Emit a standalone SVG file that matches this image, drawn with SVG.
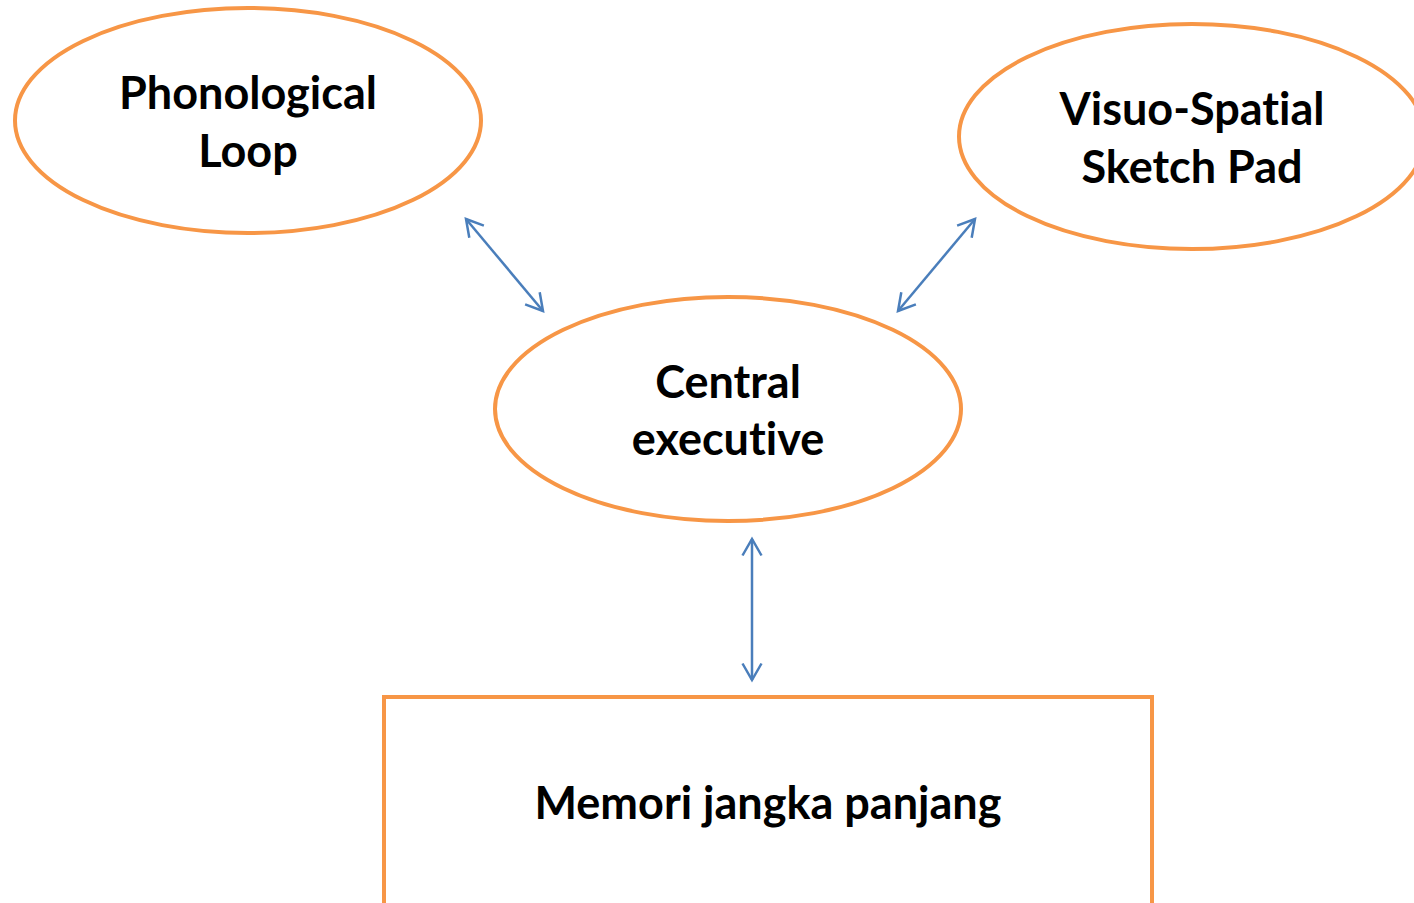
<svg xmlns="http://www.w3.org/2000/svg" width="1414" height="903" viewBox="0 0 1414 903">
<style>
.n{fill:#fff;stroke:#F79646;stroke-width:4}
.t{font-family:Lato,"Open Sans",sans-serif;font-weight:bold;font-size:45px;fill:#000;text-anchor:middle;font-variant-ligatures:none;font-feature-settings:"liga" 0}
.c{fill:none;stroke:#4A7EBB;stroke-width:2.5}
</style>
<defs>
<marker id="ah" viewBox="0 0 22 22" refX="19" refY="11" markerWidth="22" markerHeight="22" markerUnits="userSpaceOnUse" orient="auto-start-reverse">
<polyline points="2.5,1.5 19,11 2.5,20.5" fill="none" stroke="#4A7EBB" stroke-width="2.5"/>
</marker>
</defs>
<rect width="1414" height="903" fill="#fff"/>
<g id="phonological-loop">
<ellipse class="n" cx="248" cy="120.5" rx="233" ry="112.5"/>
<text class="t" x="248" y="109">Phonological</text>
<text class="t" x="248" y="167">Loop</text>
</g>
<g id="visuo-spatial">
<ellipse class="n" cx="1192" cy="136.5" rx="233" ry="112.5"/>
<text class="t" x="1192" y="125">Visuo-Spatial</text>
<text class="t" x="1192" y="183">Sketch Pad</text>
</g>
<g id="central-executive">
<ellipse class="n" cx="728" cy="409" rx="233" ry="112"/>
<text class="t" x="728" y="398">Central</text>
<text class="t" x="728" y="455">executive</text>
</g>
<g id="memori">
<rect class="n" x="384" y="697" width="768" height="209"/>
<text class="t" x="768" y="819">Memori jangka panjang</text>
</g>
<g id="connectors">
<line class="c" x1="466" y1="219" x2="543" y2="311" marker-start="url(#ah)" marker-end="url(#ah)"/>
<line class="c" x1="975" y1="219" x2="898" y2="311" marker-start="url(#ah)" marker-end="url(#ah)"/>
<line class="c" x1="752" y1="539" x2="752" y2="680" marker-start="url(#ah)" marker-end="url(#ah)"/>
</g>
</svg>
